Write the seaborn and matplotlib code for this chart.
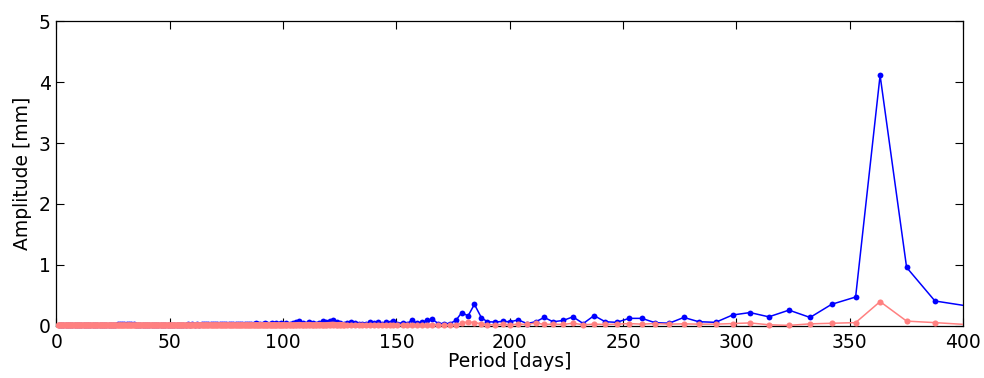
import numpy as np
import pandas as pd
import matplotlib
matplotlib.use("Agg")
import matplotlib.pyplot as plt
import seaborn as sns
from matplotlib.transforms import Bbox, TransformedBbox

# ---- data ----
period_days = [
    1, 2, 3, 4, 5, 6, 7, 8, 9, 10,
    11, 12, 13, 14, 15, 16, 17, 18, 19, 20,
    21, 22, 23, 24, 25, 26, 27, 28, 29, 30,
    31, 32, 33, 34, 35, 36, 37, 38, 39, 40,
    41, 42, 43, 44, 45, 46, 47, 48, 49, 50,
    51, 52, 53, 54, 55, 56, 57, 58, 59, 60,
    61, 62, 63, 64, 65, 66, 67, 68, 69, 70,
    71, 72, 73, 74, 75, 76, 77, 78, 79, 80,
    81, 82, 83, 84, 85, 86, 87, 88, 89, 90,
    91, 92, 93, 94, 95, 96, 97, 98, 99,
    100, 101.4, 102.9, 104.3,
    105.8, 107.2, 108.6, 110, 111.5, 113, 114.5, 116, 117.5, 119,
    120.5, 122, 123.6, 125.2, 126.8, 128.4, 130, 131.6, 133.3, 135,
    136.6, 138.2, 140, 141.9, 143.6, 145.3, 147, 148.5, 150.4, 152.7,
    154.6, 156.7, 159, 161.2, 163.6, 165.9, 168.4, 171, 173.5, 176.2,
    178.8, 181.6, 184.4, 187.5, 190.1, 193.6, 196.8, 200.3, 203.7, 207.6,
    211.5, 215.2, 219.1, 223.5, 227.9, 232.4, 237.2, 242.1, 247.1, 252.7,
    258.3, 264, 270.3, 276.8, 283.4, 290.8, 298.3, 306, 314.3, 323.2,
    332.5, 342, 352.6, 363.4, 375.1, 387.6, 412,
]

amp_blue = [
    0.01, 0.01, 0.01, 0.01, 0.01, 0.01, 0.01, 0.01, 0.01, 0.01,
    0.01, 0.01, 0.012, 0.01, 0.01, 0.012, 0.01, 0.015, 0.012, 0.015,
    0.015, 0.012, 0.015, 0.02, 0.015, 0.02, 0.025, 0.035, 0.03, 0.025,
    0.03, 0.04, 0.035, 0.025, 0.02, 0.015, 0.02, 0.015, 0.02, 0.015,
    0.015, 0.02, 0.015, 0.02, 0.015, 0.02, 0.015, 0.02, 0.015, 0.02,
    0.02, 0.015, 0.02, 0.02, 0.015, 0.02, 0.02, 0.025, 0.02, 0.025,
    0.02, 0.025, 0.02, 0.03, 0.025, 0.03, 0.025, 0.03, 0.025, 0.03,
    0.03, 0.035, 0.025, 0.03, 0.035, 0.03, 0.035, 0.03, 0.035, 0.04,
    0.03, 0.035, 0.04, 0.035, 0.04, 0.035, 0.04, 0.045, 0.035, 0.04,
    0.04, 0.045, 0.035, 0.04, 0.05, 0.04, 0.045, 0.04, 0.05,
    0.035, 0.05, 0.04, 0.05,
    0.06, 0.075, 0.05, 0.04, 0.06, 0.045, 0.035, 0.05, 0.085, 0.06,
    0.08, 0.1, 0.06, 0.045, 0.04, 0.05, 0.07, 0.045, 0.04, 0.035,
    0.04, 0.065, 0.05, 0.07, 0.04, 0.06, 0.05, 0.08, 0.04, 0.055,
    0.04, 0.09, 0.05, 0.06, 0.09, 0.11, 0.04, 0.04, 0.04, 0.09,
    0.22, 0.165, 0.355, 0.135, 0.07, 0.065, 0.075, 0.07, 0.1, 0.04,
    0.07, 0.14, 0.07, 0.09, 0.15, 0.04, 0.17, 0.07, 0.06, 0.125,
    0.125, 0.055, 0.045, 0.14, 0.07, 0.06, 0.18, 0.22, 0.15, 0.26,
    0.14, 0.355, 0.475, 4.11, 0.96, 0.41, 0.27,
]

amp_pink = [
    0.008, 0.01, 0.008, 0.01, 0.008, 0.01, 0.008, 0.01, 0.008, 0.01,
    0.008, 0.01, 0.008, 0.01, 0.008, 0.01, 0.008, 0.01, 0.008, 0.01,
    0.008, 0.01, 0.008, 0.01, 0.008, 0.01, 0.008, 0.01, 0.008, 0.01,
    0.008, 0.01, 0.008, 0.01, 0.008, 0.01, 0.008, 0.01, 0.008, 0.01,
    0.008, 0.01, 0.008, 0.01, 0.008, 0.01, 0.008, 0.01, 0.008, 0.01,
    0.008, 0.01, 0.008, 0.01, 0.008, 0.01, 0.008, 0.01, 0.008, 0.01,
    0.01, 0.012, 0.01, 0.012, 0.01, 0.012, 0.01, 0.012, 0.01, 0.012,
    0.01, 0.012, 0.01, 0.012, 0.01, 0.012, 0.01, 0.012, 0.01, 0.012,
    0.01, 0.012, 0.01, 0.012, 0.01, 0.012, 0.01, 0.012, 0.01, 0.012,
    0.01, 0.012, 0.01, 0.012, 0.01, 0.012, 0.01, 0.012, 0.01,
    0.012, 0.01, 0.012, 0.01,
    0.012, 0.015, 0.01, 0.012, 0.015, 0.01, 0.012, 0.015, 0.01, 0.012,
    0.015, 0.02, 0.012, 0.015, 0.01, 0.012, 0.015, 0.01, 0.012, 0.015,
    0.012, 0.015, 0.01, 0.015, 0.012, 0.015, 0.012, 0.015, 0.012, 0.015,
    0.012, 0.015, 0.012, 0.015, 0.02, 0.015, 0.012, 0.015, 0.012, 0.02,
    0.045, 0.07, 0.055, 0.035, 0.02, 0.02, 0.025, 0.02, 0.03, 0.025,
    0.05, 0.025, 0.03, 0.025, 0.045, 0.02, 0.03, 0.025, 0.03, 0.04,
    0.03, 0.04, 0.03, 0.035, 0.03, 0.03, 0.04, 0.05, 0.02, 0.01,
    0.035, 0.045, 0.055, 0.40, 0.08, 0.055, 0.0,
]

x_ticks = [0, 50, 100, 150, 200, 250, 300, 350, 400]
y_ticks = [0, 1, 2, 3, 4, 5]
x_label = "Period [days]"
y_label = "Amplitude [mm]"

# ---- plotting ----
sns.set_style("ticks")
plt.rcParams["font.family"] = ["DejaVu Sans"]
plt.rcParams["text.color"] = "black"
plt.rcParams["axes.labelcolor"] = "black"
plt.rcParams["xtick.color"] = "black"
plt.rcParams["ytick.color"] = "black"

fig = plt.figure(figsize=(9.84, 3.78), dpi=100)
ax = fig.add_axes([0.0574, 0.1376, 0.9213, 0.8068])

df = pd.DataFrame({"period": period_days, "blue": amp_blue, "pink": amp_pink})
dense = df[df["period"] <= 128]

BLUE = "#0000FF"
PINK = "#FF8080"

sns.lineplot(data=df, x="period", y="blue", ax=ax, color=BLUE,
             marker="o", markersize=4.2, markeredgewidth=0, linewidth=1.1,
             sort=False, estimator=None, zorder=3)
# dense low-period region: overlapping markers merge into a solid band
sns.lineplot(data=dense, x="period", y="pink", ax=ax, color=PINK,
             linewidth=4.6, sort=False, estimator=None, zorder=4,
             solid_capstyle="round")
sns.lineplot(data=df, x="period", y="pink", ax=ax, color=PINK,
             marker="o", markersize=4.4, markeredgewidth=0, linewidth=1.1,
             sort=False, estimator=None, zorder=4)

ax.set_xlim(0, 400)
ax.set_ylim(0, 5)

clip_box = TransformedBbox(Bbox([[0, -0.05], [1, 1.0]]), ax.transAxes)
for ln in ax.get_lines():
    ln.set_clip_box(clip_box)

ax.set_xticks(x_ticks)
ax.set_yticks(y_ticks)
ax.set_xticklabels([str(t) for t in x_ticks])
ax.set_yticklabels([str(t) for t in y_ticks])
ax.tick_params(direction="in", length=6, width=0.8, top=True, right=True,
               labelsize=13.5, colors="black", labelcolor="black")
ax.tick_params(axis="x", pad=5)
ax.tick_params(axis="y", pad=4)
for s in ax.spines.values():
    s.set_visible(True)
    s.set_linewidth(0.9)
    s.set_color("black")
    s.set_zorder(2.5)

ax.set_xlabel(x_label, fontsize=13.5, labelpad=0, color="black")
ax.set_ylabel(y_label, fontsize=13.5, labelpad=5, color="black")

fig.savefig("out.png", dpi=100, facecolor="white")
